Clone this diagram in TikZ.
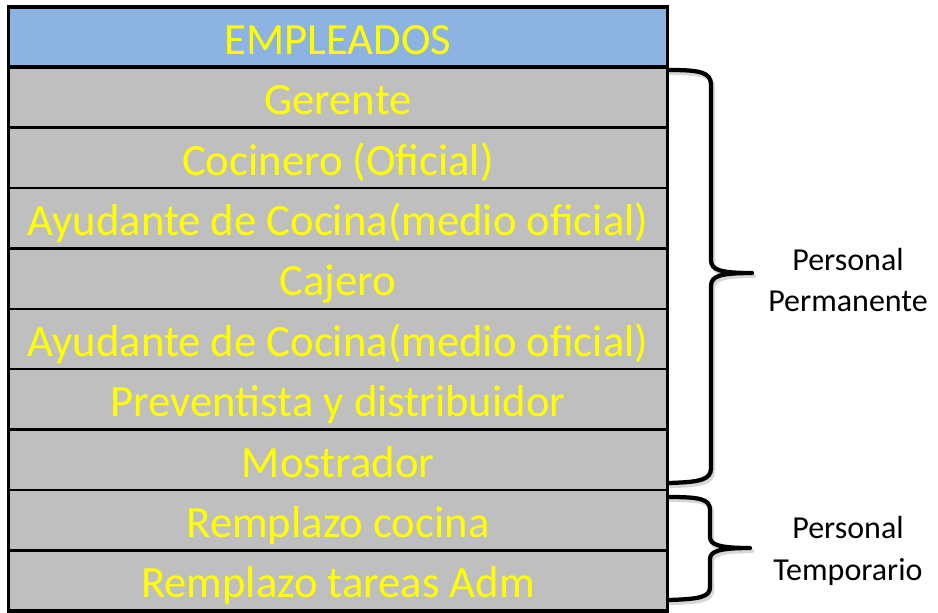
\documentclass[tikz,border=0pt]{standalone}
\usepackage{fontspec}
\setmainfont{Carlito}
\usetikzlibrary{positioning}

\definecolor{headblue}{RGB}{141,179,226}
\definecolor{rowgray}{RGB}{191,191,191}
\definecolor{txtyellow}{RGB}{255,255,0}

\tikzset{every picture/.style={line width=0.75pt}}
\tikzset{
  rowbox/.style={draw=black, line width=1.8pt, fill=rowgray, text=txtyellow,
    minimum width=494.25pt, minimum height=45.3pt, inner sep=0pt, outer sep=0pt,
    text height=27pt, text depth=1pt,
    font=\fontsize{33.5}{40}\selectfont},
  headbox/.style={rowbox, fill=headblue},
  bracepath/.style={line width=3.2pt, line cap=round, line join=round},
  braceshadow/.style={bracepath, draw=black!45, opacity=0.35},
  grouplabel/.style={align=center, inner sep=0.75pt, font=\fontsize{24}{31}\selectfont}
}

\begin{document}
\begin{tikzpicture}[x=0.75pt,y=0.75pt,yscale=-1,xscale=1]
\useasboundingbox (0,0) rectangle (938,612);

% Table rows
\node[headbox] (empleados) at (338,37) {EMPLEADOS};
\node[rowbox, below=0pt of empleados] (gerente) {Gerente};
\node[rowbox, below=0pt of gerente] (cocinero) {Cocinero (Oficial)};
\node[rowbox, below=0pt of cocinero] (ayudanteA) {Ayudante de Cocina(medio oficial)};
\node[rowbox, below=0pt of ayudanteA] (cajero) {Cajero};
\node[rowbox, below=0pt of cajero] (ayudanteB) {Ayudante de Cocina(medio oficial)};
\node[rowbox, below=0pt of ayudanteB] (preventista) {Preventista y distribuidor};
\node[rowbox, below=0pt of preventista] (mostrador) {Mostrador};
\node[rowbox, below=0pt of mostrador] (remcocina) {Remplazo cocina};
\node[rowbox, below=0pt of remcocina] (remadm) {Remplazo tareas Adm};

% Outer frame
\draw[line width=2.6pt] (empleados.north west) rectangle (remadm.south east);
\draw[line width=2.6pt] (empleados.south west) -- (empleados.south east);

% Brace shadows
\begin{scope}[shift={(2,3)}]
\draw[braceshadow] (669,70) .. controls (700,70) and (711,72) .. (711,85) -- (711,260) .. controls (711,270) and (720,273) .. (752,273) .. controls (720,273) and (711,276) .. (711,286) -- (711,468) .. controls (711,480) and (700,482) .. (669,483);
\draw[braceshadow] (669,497) .. controls (700,497) and (710,499) .. (710,510) -- (710,537) .. controls (710,545) and (720,548) .. (750,548) .. controls (720,548) and (710,551) .. (710,559) -- (710,587) .. controls (710,597) and (700,599) .. (669,600);
\end{scope}

% Braces
\draw[bracepath] (669,70) .. controls (700,70) and (711,72) .. (711,85) -- (711,260) .. controls (711,270) and (720,273) .. (752,273) .. controls (720,273) and (711,276) .. (711,286) -- (711,468) .. controls (711,480) and (700,482) .. (669,483);
\draw[bracepath] (669,497) .. controls (700,497) and (710,499) .. (710,510) -- (710,537) .. controls (710,545) and (720,548) .. (750,548) .. controls (720,548) and (710,551) .. (710,559) -- (710,587) .. controls (710,597) and (700,599) .. (669,600);

% Group labels
\node[grouplabel] (permanente) at (848,280) {Personal\\Permanente};
\node[grouplabel] (temporario) at (848,551) {Personal\\Temporario};

\end{tikzpicture}
\end{document}
